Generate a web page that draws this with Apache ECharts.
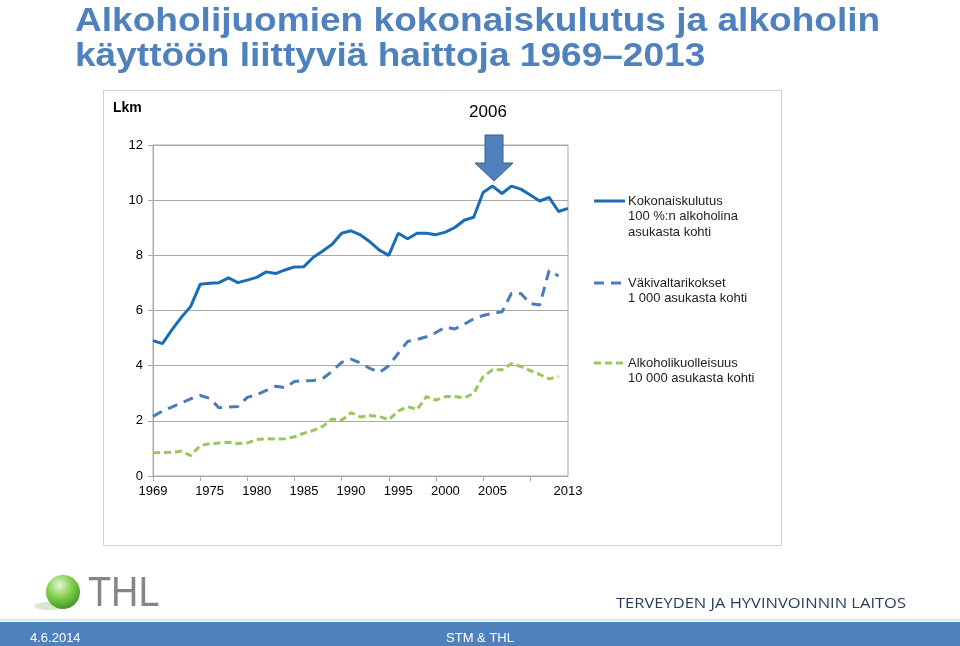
<!DOCTYPE html>
<html>
<head>
<meta charset="utf-8">
<script src="https://cdn.jsdelivr.net/npm/echarts@6/dist/echarts.min.js"></script>
<style>
html,body{margin:0;padding:0;background:#fff;}
#main{width:960px;height:646px;}
</style>
</head>
<body>
<div id="main"></div>
<script>
// ---- data ----
var years = [];
for (var y = 1969; y <= 2013; y++) years.push(String(y));
var labelYears = ['1969','1975','1980','1985','1990','1995','2000','2005','2013'];
var yTicks = [0, 2, 4, 6, 8, 10, 12];

var kokonaiskulutus = [
  4.91, 4.80, 5.30, 5.75, 6.15, 6.95, 6.99, 7.01, 7.18, 7.01,
  7.10, 7.20, 7.40, 7.34, 7.47, 7.58, 7.59, 7.93, 8.16, 8.40,
  8.80, 8.89, 8.74, 8.49, 8.19, 8.00, 8.80, 8.60, 8.80, 8.80,
  8.75, 8.84, 9.01, 9.27, 9.38, 10.28, 10.51, 10.24, 10.51, 10.40,
  10.19, 9.97, 10.10, 9.59, 9.70
];
var vakivalta = [
  2.16, 2.35, 2.50, 2.65, 2.80, 2.92, 2.82, 2.47, 2.50, 2.52,
  2.85, 2.95, 3.10, 3.25, 3.20, 3.43, 3.45, 3.46, 3.53, 3.80,
  4.12, 4.24, 4.10, 3.90, 3.75, 4.00, 4.45, 4.88, 4.95, 5.05,
  5.20, 5.40, 5.33, 5.50, 5.70, 5.82, 5.90, 5.95, 6.62, 6.62,
  6.25, 6.20, 7.45, 7.25, null
];
var kuolleisuus = [
  0.84, 0.85, 0.86, 0.90, 0.74, 1.10, 1.17, 1.20, 1.22, 1.18,
  1.20, 1.32, 1.35, 1.34, 1.35, 1.42, 1.55, 1.65, 1.80, 2.07,
  2.02, 2.30, 2.14, 2.19, 2.16, 2.04, 2.35, 2.52, 2.41, 2.88,
  2.75, 2.88, 2.88, 2.83, 3.00, 3.60, 3.85, 3.85, 4.07, 3.97,
  3.82, 3.68, 3.52, 3.61, null
];
var seriesNames = [
  ['Kokonaiskulutus', '100 %:n alkoholina', 'asukasta kohti'],
  ['Väkivaltarikokset', '1 000 asukasta kohti'],
  ['Alkoholikuolleisuus', '10 000 asukasta kohti']
];
var highlightYear = '2006';

// ---- styles ----
var C_SOLID = '#1b6cb4', C_DASH = '#4a7bbd', C_GREEN = '#9ac75a', C_GRID = '#a9a9a9';
var FONT = 'Liberation Sans, Arial, sans-serif';

var chart = echarts.init(document.getElementById('main'), null, {renderer: 'canvas'});

function legendGraphic(lines, top, lineStyle, color) {
  var els = [{
    type: 'line', shape: {x1: 594, y1: top, x2: 625, y2: top},
    style: Object.assign({stroke: color, lineWidth: 3}, lineStyle)
  }];
  lines.forEach(function (t, i) {
    els.push({type: 'text', x: 628, y: top + i * 15.5,
      style: {text: t, fill: '#222', font: '13px ' + FONT, verticalAlign: 'middle', align: 'left'}});
  });
  return els;
}

var graphics = [
  // title
  {type: 'text', x: 75, y: 22, scaleX: 1.09, style: {text: 'Alkoholijuomien kokonaiskulutus ja alkoholin', fill: '#4f81bd', font: 'bold 34px ' + FONT, verticalAlign: 'middle'}},
  {type: 'text', x: 75, y: 57, scaleX: 1.09, style: {text: 'käyttöön liittyviä haittoja 1969–2013', fill: '#4f81bd', font: 'bold 34px ' + FONT, verticalAlign: 'middle'}},
  // chart frame
  {type: 'rect', shape: {x: 103.5, y: 90.5, width: 678, height: 455}, style: {fill: null, stroke: '#d0d0d0', lineWidth: 1}, z: -1},
  {type: 'text', x: 113, y: 108, style: {text: 'Lkm', fill: '#000', font: 'bold 14px ' + FONT, verticalAlign: 'middle'}},
  {type: 'text', x: 488, y: 112, style: {text: highlightYear, fill: '#000', font: '17px ' + FONT, verticalAlign: 'middle', align: 'center'}},
  // arrow
  {type: 'polygon', shape: {points: [[485, 135], [503, 135], [503, 163], [513, 163], [494, 181], [475, 163], [485, 163]]},
   style: {fill: '#4f81bd', stroke: '#385d8a', lineWidth: 1}, z: 10},
  // footer
  {type: 'rect', shape: {x: 0, y: 622, width: 960, height: 24}, style: {fill: '#4f81bd'}},
  {type: 'rect', shape: {x: 0, y: 619, width: 960, height: 2}, style: {fill: '#dbe5f1'}},
  {type: 'text', x: 30, y: 638, style: {text: '4.6.2014', fill: '#fff', font: '13px ' + FONT, verticalAlign: 'middle'}},
  {type: 'text', x: 480, y: 638, style: {text: 'STM & THL', fill: '#fff', font: '13px ' + FONT, verticalAlign: 'middle', align: 'center'}},
  {type: 'text', x: 616, y: 604, scaleX: 1.1, style: {text: 'TERVEYDEN JA HYVINVOINNIN LAITOS', fill: '#2a3d5c', font: '15px Open Sans, sans-serif', verticalAlign: 'middle'}},
  // THL logo
  {type: 'ellipse', shape: {cx: 50, cy: 606, rx: 16, ry: 4}, style: {fill: 'rgba(140,190,110,0.35)'}},
  {type: 'circle', shape: {cx: 63, cy: 592, r: 17},
   style: {fill: new echarts.graphic.RadialGradient(0.4, 0.3, 0.8, [{offset: 0, color: '#e4f7d4'}, {offset: 0.45, color: '#86d04f'}, {offset: 1, color: '#2f8a18'}])}},
  {type: 'text', x: 88, y: 594, scaleX: 0.9, style: {text: 'THL', fill: '#858585', font: '42px ' + FONT, verticalAlign: 'middle'}}
];
graphics = graphics
  .concat(legendGraphic(seriesNames[0], 201, {}, C_SOLID))
  .concat(legendGraphic(seriesNames[1], 283, {lineDash: [10, 7]}, C_DASH))
  .concat(legendGraphic(seriesNames[2], 363, {lineDash: [7, 4]}, C_GREEN));

var option = {
  backgroundColor: '#fff',
  animation: false,
  grid: {left: 153, right: 392, top: 145, bottom: 170, show: true, borderColor: C_GRID, borderWidth: 1},
  xAxis: {
    type: 'category', data: years, boundaryGap: false,
    axisLine: {lineStyle: {color: C_GRID}},
    axisTick: {show: true, length: 5, lineStyle: {color: C_GRID},
      interval: function (i) { return i % 5 === 0; }},
    axisLabel: {color: '#000', fontSize: 13, fontFamily: FONT, margin: 9,
      interval: function (i, v) { return labelYears.indexOf(v) >= 0; }},
    splitLine: {show: false}
  },
  yAxis: {
    type: 'value', min: yTicks[0], max: yTicks[yTicks.length - 1], interval: 2,
    axisLine: {show: true, lineStyle: {color: C_GRID}},
    axisTick: {show: true, length: 5, lineStyle: {color: C_GRID}},
    axisLabel: {color: '#000', fontSize: 13, fontFamily: FONT, margin: 10},
    splitLine: {lineStyle: {color: C_GRID, width: 1}}
  },
  series: [
    {name: seriesNames[0][0], type: 'line', data: kokonaiskulutus, symbol: 'none',
     lineStyle: {color: C_SOLID, width: 3}, z: 3},
    {name: seriesNames[1][0], type: 'line', data: vakivalta, symbol: 'none',
     lineStyle: {color: C_DASH, width: 3, type: [10, 7]}, z: 2},
    {name: seriesNames[2][0], type: 'line', data: kuolleisuus, symbol: 'none',
     lineStyle: {color: C_GREEN, width: 3, type: [7, 4]}, z: 2}
  ],
  graphic: graphics
};
chart.setOption(option);
</script>
</body>
</html>
